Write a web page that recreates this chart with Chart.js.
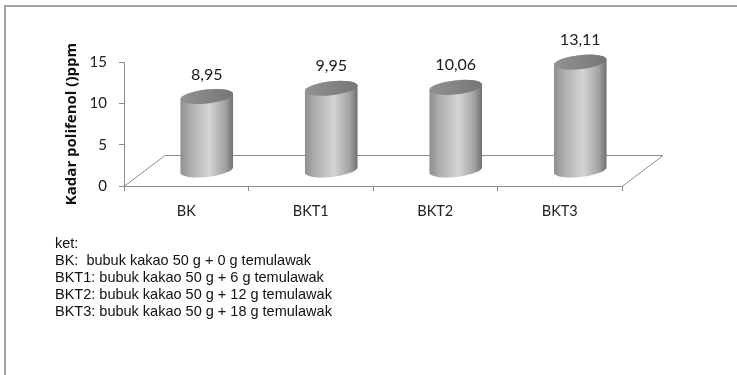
<!DOCTYPE html>
<html>
<head>
<meta charset="utf-8">
<script src="https://cdn.jsdelivr.net/npm/chart.js@4.4.1/dist/chart.umd.min.js"></script>
<style>
  html, body { margin: 0; padding: 0; background: #fff; }
  body { width: 737px; height: 375px; position: relative; overflow: hidden; }
  .frame { position: absolute; left: 4px; top: 5px; right: -10px; bottom: -10px;
           border-left: 2px solid #a3a3a3; border-top: 2px solid #a3a3a3; }
  #polyChart { position: absolute; left: 0; top: 0; }
  .ket { position: absolute; left: 55px; top: 235px; color: #111;
         font: 14.5px "Liberation Sans", Arial, sans-serif; line-height: 17px; white-space: pre; }
</style>
</head>
<body>
<div class="frame"></div>
<canvas id="polyChart" width="737" height="375"></canvas>
<div class="ket" id="ket"></div>
<script>
const categories = ['BK', 'BKT1', 'BKT2', 'BKT3'];
const polifenol = [8.95, 9.95, 10.06, 13.11];
const yTicks = [0, 5, 10, 15];
const notes = [
    'ket:',
    'BK:  bubuk kakao 50 g + 0 g temulawak',
    'BKT1: bubuk kakao 50 g + 6 g temulawak',
    'BKT2: bubuk kakao 50 g + 12 g temulawak',
    'BKT3: bubuk kakao 50 g + 18 g temulawak'
];

document.getElementById('ket').textContent = notes.join('\n');

// depth of the 3D floor, cylinders stand halfway back
const DEPTH_X = 41;
const DEPTH_Y = 31;
const AXIS_COLOR = '#8c8c8c';

const floorPlugin = {
    id: 'floor3d',
    beforeDatasetsDraw(chart) {
        const { ctx, chartArea: a } = chart;
        ctx.save();
        ctx.strokeStyle = AXIS_COLOR;
        ctx.lineWidth = 1;
        ctx.beginPath();
        ctx.moveTo(a.left, a.bottom + 0.5);
        ctx.lineTo(a.left + DEPTH_X, a.bottom - DEPTH_Y + 0.5);
        ctx.lineTo(a.right + DEPTH_X, a.bottom - DEPTH_Y + 0.5);
        ctx.lineTo(a.right, a.bottom + 0.5);
        ctx.stroke();
        ctx.restore();
    }
};

const cylinderPlugin = {
    id: 'cylinders',
    afterDatasetsDraw(chart) {
        const ctx = chart.ctx;
        const meta = chart.getDatasetMeta(0);
        const values = chart.data.datasets[0].data;
        ctx.save();
        meta.data.forEach((bar, i) => {
            const cx = bar.x + DEPTH_X / 2;
            const top = bar.y - DEPTH_Y / 2;
            const base = bar.base - DEPTH_Y / 2;
            const rx = bar.width / 2;
            const ry = 7;
            const rot = -0.11;
            const ex = rx * Math.cos(rot);
            const ey = rx * Math.sin(rot);

            const body = ctx.createLinearGradient(cx - rx, 0, cx + rx, 0);
            body.addColorStop(0, '#8e8e8e');
            body.addColorStop(0.18, '#adadad');
            body.addColorStop(0.55, '#d4d4d4');
            body.addColorStop(0.85, '#a2a2a2');
            body.addColorStop(1, '#6f6f6f');
            ctx.fillStyle = body;
            ctx.beginPath();
            ctx.moveTo(cx - ex, top - ey);
            ctx.lineTo(cx - ex, base - ey);
            ctx.ellipse(cx, base, rx, ry, rot, Math.PI, 0, true);
            ctx.lineTo(cx + ex, top + ey);
            ctx.ellipse(cx, top, rx, ry, rot, 0, Math.PI, true);
            ctx.closePath();
            ctx.fill();

            const cap = ctx.createLinearGradient(cx - rx, 0, cx + rx, 0);
            cap.addColorStop(0, '#929292');
            cap.addColorStop(1, '#767676');
            ctx.fillStyle = cap;
            ctx.beginPath();
            ctx.ellipse(cx, top, rx, ry, rot, 0, Math.PI * 2);
            ctx.fill();

            ctx.fillStyle = '#1a1a1a';
            ctx.font = '16px Lato, sans-serif';
            ctx.textAlign = 'center';
            ctx.textBaseline = 'middle';
            ctx.fillText(values[i].toFixed(2).replace('.', ','), cx, top - 22);
        });
        ctx.restore();
    }
};

new Chart(document.getElementById('polyChart'), {
    type: 'bar',
    data: {
        labels: categories,
        datasets: [{
            data: polifenol,
            backgroundColor: 'rgba(0,0,0,0)',
            categoryPercentage: 1,
            barPercentage: 0.425
        }]
    },
    options: {
        responsive: false,
        animation: false,
        layout: { padding: { left: 0, top: 62, right: 115, bottom: 0 } },
        plugins: {
            legend: { display: false },
            tooltip: { enabled: false }
        },
        scales: {
            x: {
                grid: { drawOnChartArea: false, tickLength: 5, color: AXIS_COLOR },
                border: { color: AXIS_COLOR },
                ticks: { color: '#222', padding: 12, font: { family: 'Lato', size: 14.5 } },
                afterFit: function (scale) { scale.height = 189; }
            },
            y: {
                min: 0,
                max: 15,
                grid: { drawOnChartArea: false, tickLength: 5, color: AXIS_COLOR },
                border: { color: AXIS_COLOR },
                ticks: { color: '#222', padding: 12, font: { family: 'Lato', size: 15 } },
                afterBuildTicks: function (scale) {
                    scale.ticks = yTicks.map(v => ({ value: v }));
                },
                afterFit: function (scale) { scale.width = 124; },
                title: {
                    display: true,
                    text: 'Kadar polifenol ()ppm',
                    color: '#111',
                    padding: { top: 63, bottom: 0 },
                    font: { family: 'Open Sans', size: 15, weight: 'bold' }
                }
            }
        }
    },
    plugins: [floorPlugin, cylinderPlugin]
});
</script>
</body>
</html>
